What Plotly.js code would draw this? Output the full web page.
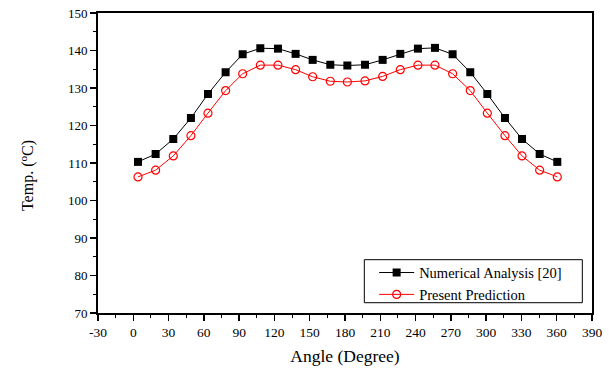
<!DOCTYPE html>
<html>
<head>
<meta charset="utf-8">
<script src="https://cdn.plot.ly/plotly-3.0.1.min.js"></script>
<style>html,body{margin:0;padding:0;background:#fff;}#chart{width:614px;height:371px;}</style>
</head>
<body>
<div id="chart"></div>
<script>
const angles = [4, 19, 34, 49, 63.5, 78.5, 93, 108, 123, 138, 152.5, 167.5, 182, 197, 212, 227, 242, 256.5, 271.5, 286.5, 301, 316, 330.5, 345.5, 360.5];
const numerical = [110.3, 112.4, 116.4, 122.0, 128.4, 134.2, 139.0, 140.6, 140.5, 139.1, 137.5, 136.2, 136.0, 136.2, 137.5, 139.1, 140.5, 140.7, 139.0, 134.2, 128.4, 122.0, 116.4, 112.4, 110.3];
const present = [106.3, 108.1, 111.9, 117.3, 123.3, 129.3, 133.8, 136.1, 136.1, 134.9, 133.0, 131.8, 131.6, 131.9, 133.1, 134.9, 136.1, 136.1, 133.8, 129.3, 123.3, 117.3, 111.9, 108.1, 106.3];
const xTicks = [-30, 0, 30, 60, 90, 120, 150, 180, 210, 240, 270, 300, 330, 360, 390];
const yTicks = [70, 80, 90, 100, 110, 120, 130, 140, 150];

const FAM = 'Liberation Serif';
const traces = [
  {x: angles, y: numerical, name: 'Numerical Analysis [20]', type: 'scatter', mode: 'lines+markers',
   line: {color: '#000', width: 1}, marker: {symbol: 'square', size: 8, color: '#000'}},
  {x: angles, y: present, name: 'Present Prediction', type: 'scatter', mode: 'lines+markers',
   line: {color: '#ff0000', width: 1}, marker: {symbol: 'circle-open', size: 8, color: '#ff0000', line: {width: 1.2, color: '#ff0000'}}}
];
const layout = {
  width: 614, height: 371,
  margin: {l: 98, r: 22, t: 13, b: 58},
  paper_bgcolor: '#fff', plot_bgcolor: '#fff',
  font: {family: FAM, size: 13, color: '#000'},
  showlegend: true,
  legend: {x: 0.559, y: 0.188, xanchor: 'left', yanchor: 'top', borderwidth: 0,
           bgcolor: 'rgba(0,0,0,0)', font: {family: FAM, size: 14.5, color: '#000'}, itemwidth: 35},
  shapes: [{type: 'rect', xref: 'paper', yref: 'paper', x0: 0.5391, x1: 0.9804, y0: 0.0343, y1: 0.1777,
            line: {color: '#000', width: 1}, fillcolor: 'rgba(0,0,0,0)', layer: 'above'}],
  annotations: [{text: 'Temp. (<sup>o</sup>C)', xref: 'paper', yref: 'paper', x: -0.143, y: 0.4577,
                 xanchor: 'center', yanchor: 'middle', textangle: -90, showarrow: false,
                 font: {family: FAM, size: 16, color: '#000'}}],
  xaxis: {range: [-30, 390], tickvals: xTicks, ticktext: xTicks.map(String), ticks: 'outside', ticklen: 6, tickwidth: 1.5,
          tickfont: {family: FAM, size: 13.5, color: '#000'},
          showline: true, linecolor: '#000', linewidth: 2, mirror: true, showgrid: false, zeroline: false,
          minor: {dtick: 15, ticks: 'outside', ticklen: 3, tickwidth: 1, tickcolor: '#000'}, tickcolor: '#000',
          title: {text: 'Angle (Degree)', font: {family: FAM, size: 17.5, color: '#000'}, standoff: 11}},
  yaxis: {range: [70, 150], tickvals: yTicks, ticktext: yTicks.map(String), ticks: 'outside', ticklen: 6, tickwidth: 1.5,
          tickfont: {family: FAM, size: 13, color: '#000'},
          showline: true, linecolor: '#000', linewidth: 2, mirror: true, showgrid: false, zeroline: false,
          minor: {dtick: 5, ticks: 'outside', ticklen: 3, tickwidth: 1, tickcolor: '#000'}, tickcolor: '#000'}
};
Plotly.newPlot('chart', traces, layout, {displayModeBar: false, staticPlot: true});
</script>
</body>
</html>
